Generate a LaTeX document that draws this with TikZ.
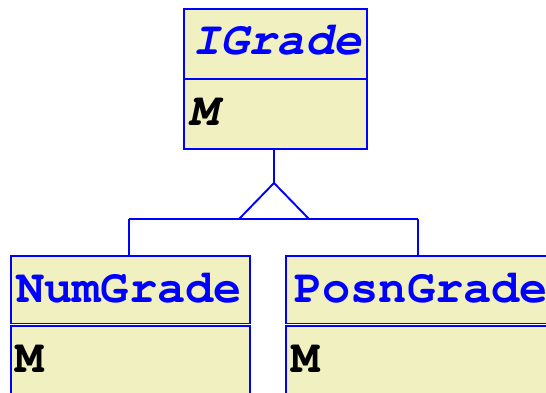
\documentclass[tikz,border=0pt]{standalone}
\usepackage{fontspec}
\setmonofont{TeX Gyre Cursor}
\definecolor{boxfill}{RGB}{240,240,192}
\definecolor{umlblue}{RGB}{0,0,255}
\tikzset{
  umlbox/.style={draw=umlblue, fill=boxfill, line width=1.9pt, inner sep=0pt, anchor=north west},
  title/.style={anchor=base west, inner sep=0pt, text=umlblue, font=\fontsize{47}{47}\selectfont\ttfamily\bfseries},
  ititle/.style={title, font=\fontsize{47}{47}\selectfont\ttfamily\bfseries\itshape},
  member/.style={anchor=base west, inner sep=0pt, text=black, font=\fontsize{47}{47}\selectfont\ttfamily\bfseries},
  imember/.style={member, font=\fontsize{47}{47}\selectfont\ttfamily\bfseries\itshape},
  link/.style={draw=umlblue, line width=1.9pt}
}
\begin{document}
\begin{tikzpicture}[x=1pt,y=-1pt]
\useasboundingbox (0,0) rectangle (546,393);
\clip (0,0) rectangle (546,393);
% IGrade
\node[umlbox, minimum width=183pt, minimum height=70pt] (ig) at (183,8) {};
\node[umlbox, minimum width=183pt, minimum height=70pt] (igb) at (183,78) {};
\node[ititle] (igt) at (192,55) {IGrade};
\node[imember] (igm) at (189,125) {M};
% NumGrade
\node[umlbox, minimum width=239pt, minimum height=67.5pt] (ng) at (10,255) {};
\node[umlbox, minimum width=239pt, minimum height=90pt] (ngb) at (10,325) {};
\node[title] (ngt) at (16,302) {NumGrade};
\node[member] (ngm) at (15,372) {M};
% PosnGrade
\node[umlbox, minimum width=275pt, minimum height=67.5pt] (pg) at (285,255) {};
\node[umlbox, minimum width=275pt, minimum height=90pt] (pgb) at (285,325) {};
\node[title] (pgt) at (294,302) {PosnGrade};
\node[member] (pgm) at (291,372) {M};
% generalization
\coordinate (apex) at (274,183);
\coordinate (bl) at (239,219);
\coordinate (br) at (309,219);
\coordinate (hl) at (129,219);
\coordinate (hr) at (418,219);
\draw[link] (igb.south -| apex) -- (apex);
\draw[link, line join=miter] (apex) -- (bl) -- (br) -- cycle;
\draw[link] (hl) -- (hr);
\draw[link] (hl) -- (hl |- ng.north);
\draw[link] (hr) -- (hr |- pg.north);
\end{tikzpicture}
\end{document}
